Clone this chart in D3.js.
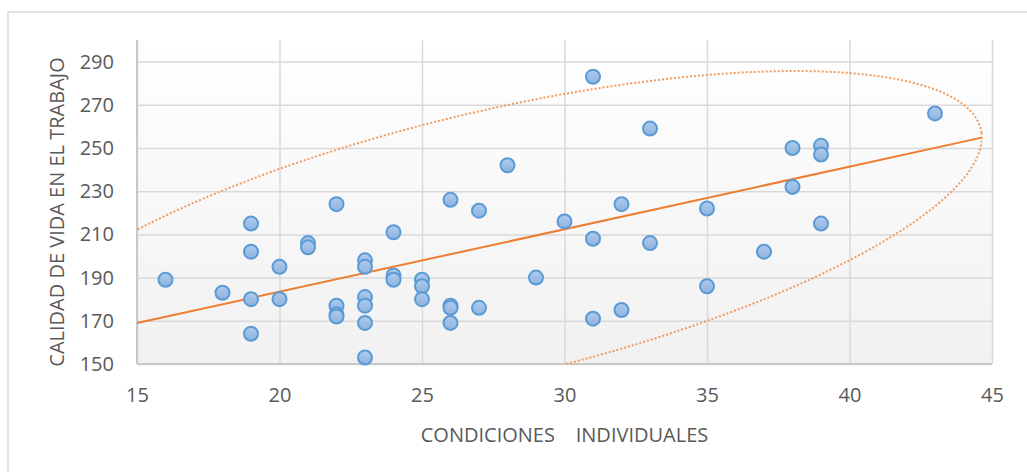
<!DOCTYPE html>
<html>
<head>
<meta charset="UTF-8">
<title>Calidad de vida en el trabajo vs condiciones individuales</title>
<script src="https://cdn.jsdelivr.net/npm/d3@7"></script>
<style>
  body { margin: 0; background: #fff; }
  text { font-family: "Open Sans", sans-serif; fill: #595959; }
  .tick text { font-size: 20px; }
  .grid line { stroke: #d9d9d9; stroke-width: 1.5; }
  .titulo { font-size: 20px; white-space: pre; }
</style>
</head>
<body>
<div id="graphe"></div>
<script>
// condiciones individuales (x) y calidad de vida en el trabajo (y)
var condiciones = [16, 18, 19, 19, 19, 19, 20, 20, 21, 21,
  22, 22, 22, 22, 23, 23, 23, 23, 23, 23,
  24, 24, 24, 25, 25, 25, 26, 26, 26, 26,
  27, 27, 28, 29, 30, 31, 31, 31, 32, 32,
  33, 33, 35, 35, 37, 38, 38, 39, 39, 39, 43];
var calidad = [189, 183, 215, 202, 180, 164, 195, 180, 206, 204,
  224, 177, 173, 172, 198, 195, 181, 177, 169, 153,
  211, 191, 189, 189, 186, 180, 226, 177, 176, 169,
  221, 176, 242, 190, 216, 283, 208, 171, 224, 175,
  259, 206, 222, 186, 202, 250, 232, 251, 247, 215, 266];

var xTicks = [15, 20, 25, 30, 35, 40, 45];
var yTicks = [150, 170, 190, 210, 230, 250, 270, 290];

// linea de tendencia (extremos)
var tendenciaX = [15, 44.64];
var tendenciaY = [168.97, 254.8];

// elipse: centro y dos semidiametros conjugados, en unidades de los ejes
var elipseCentro = [27.52, 205.23];
var elipseEjeA = [17.12, 49.58];
var elipseEjeB = [0, 63.29];

var width = 1027, height = 472;
var margin = {top: 40, right: 35, bottom: 108, left: 137};

var svg = d3.select("#graphe").append("svg")
  .attr("width", width)
  .attr("height", height);

// marco del grafico
svg.append("rect")
  .attr("x", 8).attr("y", 12)
  .attr("width", width).attr("height", height)
  .attr("fill", "none")
  .attr("stroke", "#d9d9d9")
  .attr("stroke-width", 1.5);

var x = d3.scaleLinear().domain([15, 45]).range([margin.left, width - margin.right]);
var y = d3.scaleLinear().domain([150, 300]).range([height - margin.bottom, margin.top]);

var defs = svg.append("defs");
var fondo = defs.append("linearGradient").attr("id", "fondo")
  .attr("x1", 0).attr("y1", 0).attr("x2", 0).attr("y2", 1);
fondo.append("stop").attr("offset", "0%").attr("stop-color", "#ffffff");
fondo.append("stop").attr("offset", "100%").attr("stop-color", "#f1f1f1");

var relleno = defs.append("linearGradient").attr("id", "relleno")
  .attr("x1", 0).attr("y1", 0).attr("x2", 0).attr("y2", 1);
relleno.append("stop").attr("offset", "0%").attr("stop-color", "#b0cbed");
relleno.append("stop").attr("offset", "100%").attr("stop-color", "#8db2e0");

defs.append("clipPath").attr("id", "zona")
  .append("rect")
  .attr("x", x(15)).attr("y", y(300))
  .attr("width", x(45) - x(15)).attr("height", y(150) - y(300));

svg.append("rect")
  .attr("x", x(15)).attr("y", y(300))
  .attr("width", x(45) - x(15)).attr("height", y(150) - y(300))
  .attr("fill", "url(#fondo)");

// rejilla
svg.append("g").attr("class", "grid")
  .attr("transform", "translate(0," + y(150) + ")")
  .call(d3.axisBottom(x).tickValues(xTicks).tickSize(-(y(150) - y(300))).tickFormat(""))
  .call(function(g) { g.select(".domain").remove(); });

svg.append("g").attr("class", "grid")
  .attr("transform", "translate(" + x(15) + ",0)")
  .call(d3.axisLeft(y).tickValues(yTicks).tickSize(-(x(45) - x(15))).tickFormat(""))
  .call(function(g) { g.select(".domain").remove(); });

// ejes
var ejeX = svg.append("g")
  .attr("transform", "translate(0," + y(150) + ")")
  .call(d3.axisBottom(x).tickValues(xTicks).tickSize(0).tickPadding(24));
ejeX.select(".domain").remove();

var ejeY = svg.append("g")
  .attr("transform", "translate(" + x(15) + ",0)")
  .call(d3.axisLeft(y).tickValues(yTicks).tickSize(0).tickPadding(23));
ejeY.select(".domain").remove();

svg.append("line")
  .attr("x1", x(15)).attr("x2", x(15))
  .attr("y1", y(300)).attr("y2", y(150))
  .attr("stroke", "#c8c8c8").attr("stroke-width", 2);
svg.append("line")
  .attr("x1", x(15)).attr("x2", x(45))
  .attr("y1", y(150)).attr("y2", y(150))
  .attr("stroke", "#c8c8c8").attr("stroke-width", 2);

// elipse
var t = d3.range(0, 361, 2).map(function(d) { return d * Math.PI / 180; });
var elipse = d3.line()
  .x(function(a) { return x(elipseCentro[0] + elipseEjeA[0] * Math.cos(a) + elipseEjeB[0] * Math.sin(a)); })
  .y(function(a) { return y(elipseCentro[1] + elipseEjeA[1] * Math.cos(a) + elipseEjeB[1] * Math.sin(a)); })
  .curve(d3.curveCatmullRomClosed);

svg.append("path")
  .attr("clip-path", "url(#zona)")
  .attr("d", elipse(t))
  .attr("fill", "none")
  .attr("stroke", "#f29b5e")
  .attr("stroke-width", 2)
  .attr("stroke-dasharray", "2,2");

// tendencia
svg.append("line")
  .attr("x1", x(tendenciaX[0])).attr("y1", y(tendenciaY[0]))
  .attr("x2", x(tendenciaX[1])).attr("y2", y(tendenciaY[1]))
  .attr("stroke", "#ed7d31")
  .attr("stroke-width", 2);

// puntos
svg.append("g").selectAll("circle")
  .data(d3.range(condiciones.length))
  .enter().append("circle")
  .attr("cx", function(i) { return x(condiciones[i]); })
  .attr("cy", function(i) { return y(calidad[i]); })
  .attr("r", 7)
  .attr("fill", "url(#relleno)")
  .attr("stroke", "#5b9bd5")
  .attr("stroke-width", 2);

// titulos
svg.append("text")
  .attr("class", "titulo")
  .attr("x", (x(15) + x(45)) / 2)
  .attr("y", 442)
  .attr("text-anchor", "middle")
  .text("CONDICIONES    INDIVIDUALES");

svg.append("text")
  .attr("class", "titulo")
  .attr("transform", "translate(64," + 212 + ") rotate(-90)")
  .attr("text-anchor", "middle")
  .text("CALIDAD DE VIDA EN EL TRABAJO");
</script>
</body>
</html>
